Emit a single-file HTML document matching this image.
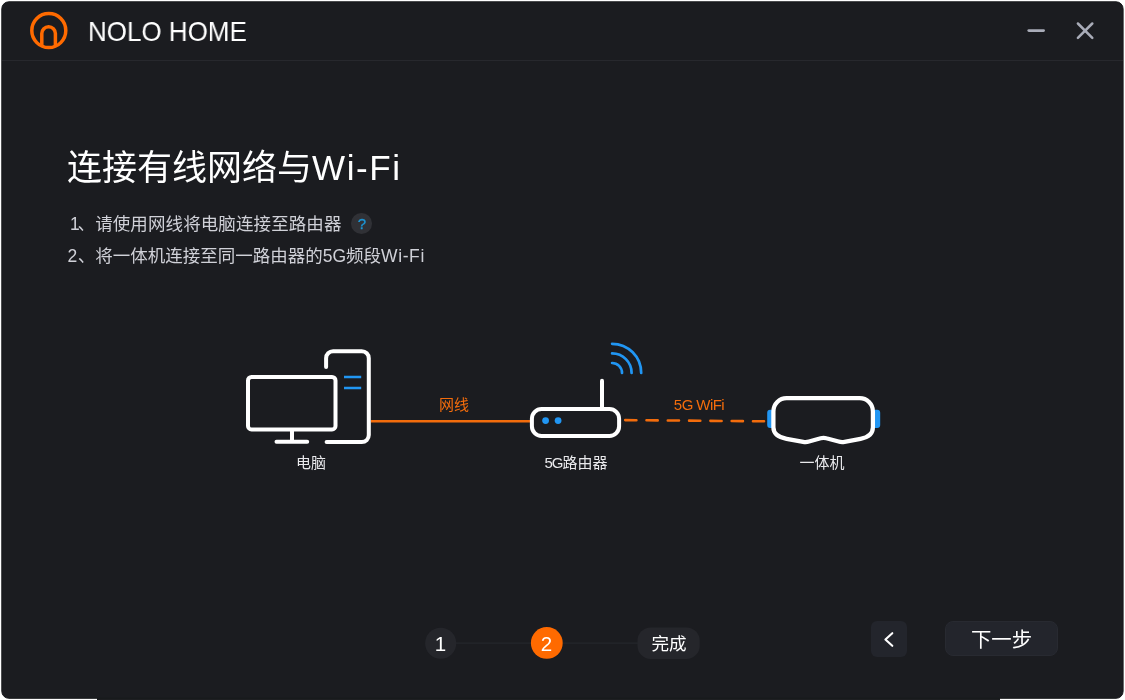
<!DOCTYPE html>
<html lang="zh-CN">
<head>
<meta charset="utf-8">
<title>NOLO HOME</title>
<style>
  html, body { margin: 0; padding: 0; }
  body {
    width: 1125px; height: 700px; overflow: hidden; position: relative;
    background: #ffffff;
    font-family: "Liberation Sans", "Noto Sans CJK SC", sans-serif;
    color: #ffffff;
  }
  .abs { position: absolute; }
  .t { will-change: transform; }
  .under { left: 97px; top: 690px; width: 903px; height: 10px; background: #1e1f22; }
  .win {
    left: 1.3px; top: 1.3px; width: 1122.3px; height: 697.2px; box-sizing: border-box;
    background: #1b1c20; border-radius: 7.5px; border: 1px solid #18191c;
  }
  .hline { left: 2px; top: 60px; width: 1121px; height: 1px; background: #27282d; }
  .brand { left: 88.2px; top: 15.9px; font-size: 27.5px; line-height: 32px; color: #fff; white-space: nowrap; transform: scaleX(0.945); transform-origin: 0 0; }
  .title { left: 67px; top: 143.7px; font-size: 35px; line-height: 48px; white-space: nowrap; color: #fff; font-weight: 400; }
  .title span { letter-spacing: 1.6px; }
  .li { left: 67px; font-size: 17.5px; line-height: 26px; white-space: nowrap; color: #d0d1d8; font-weight: 400; }
  .li1 { top: 210.9px; letter-spacing: 0.1px; }
  .li2 { top: 242.8px; }
  .help { left: 351px; top: 213px; width: 21px; height: 21px; border-radius: 50%; background: #303136; color: #1c96d6;
          font-size: 15px; line-height: 22px; padding-left: 0.4px; text-align: center; font-weight: 400; -webkit-text-stroke: 0.35px #1c96d6; }
  .lbl { font-size: 15px; line-height: 20px; white-space: nowrap; text-align: center; transform: translateX(-50%); font-weight: 400; }
  .lbl.o { color: #f36c0c; }
  .lbl.w { color: #e9e9ec; }
  .step { width: 31px; height: 31px; border-radius: 50%; top: 627.7px; text-align: center; font-size: 20.5px; line-height: 31px; color: #fff; }
  .s1 { left: 425.2px; }
  .s2 { left: 531.3px; }
  .s3 { left: 637.5px; top: 629.2px; width: 62.2px; height: 31px; text-align: center;
        font-size: 17.6px; line-height: 31px; font-weight: 400; }
  .back { left: 871px; top: 621px; width: 36px; height: 36px; border-radius: 6px; background: #23252c; }
  .next { left: 945px; top: 621px; width: 113px; height: 35px; border-radius: 8px; background: #23252c; box-sizing: border-box;
          border: 1px solid #282a31; text-align: center; font-size: 20.4px; line-height: 36px; font-weight: 400; }
</style>
</head>
<body>
<div class="abs under"></div>
<svg class="abs" style="left:0;top:0" width="1125" height="700" viewBox="0 0 1125 700"><rect x="1.8" y="1.8" width="1121.3" height="696.5" rx="7" fill="#1b1c20" stroke="#18191c" stroke-width="1"/></svg>
<div class="abs hline"></div>

<svg class="abs" style="left:0;top:0" width="1125" height="62" viewBox="0 0 1125 62" fill="none">
  <circle cx="48.8" cy="30.6" r="17" stroke="#ff6a00" stroke-width="3.5"/>
  <path d="M41.8 46 V33.5 a6.8 6.8 0 0 1 13.6 0 V46" stroke="#ff6a00" stroke-width="3.5"/>
  <path d="M1028.8 30.6 H1043.6" stroke="#a9acb8" stroke-width="2.8" stroke-linecap="round"/>
  <path d="M1077.9 23.5 L1092.3 37.9 M1092.3 23.5 L1077.9 37.9" stroke="#a9acb8" stroke-width="2.5" stroke-linecap="round"/>
</svg>
<div class="abs t brand">NOLO HOME</div>

<div class="abs t title">连接有线网络与<span>Wi-Fi</span></div>
<div class="abs t li li1"><span style="margin:0 -2.4px 0 3.1px">1</span>、请使用网线将电脑连接至路由器</div>
<div class="abs t help">?</div>
<div class="abs t li li2"><span style="margin:0 0.5px 0 0.5px">2</span>、将一体机连接至同一路由器的5G频段<span style="letter-spacing:0.6px">Wi-Fi</span></div>

<svg class="abs" style="left:0;top:330px" width="1125" height="130" viewBox="0 330 1125 130" fill="none">
  <!-- cable -->
  <path d="M371 421.2 H530" stroke="#f36c0c" stroke-width="2.6"/>
  <path d="M625.2 420.1 L764 421.3" stroke="#f36c0c" stroke-width="2.6" stroke-dasharray="11.2 10.1" stroke-linecap="round"/>
  <!-- monitor -->
  <rect x="248" y="376.9" width="87.5" height="52.5" rx="3.5" stroke="#fff" stroke-width="4"/>
  <path d="M292 430 V441.7 M276.5 441.7 H307.2" stroke="#fff" stroke-width="4" stroke-linecap="round"/>
  <!-- tower -->
  <path d="M326.1 366.9 V358.2 a7 7 0 0 1 7 -7 H361.8 a7 7 0 0 1 7 7 V435.1 a7 7 0 0 1 -7 7 H326.6" stroke="#fff" stroke-width="4" stroke-linecap="round"/>
  <path d="M344 377 H361.2 M344 388 H361.2" stroke="#2196f3" stroke-width="2.3"/>
  <!-- router -->
  <rect x="531.9" y="409.05" width="87.2" height="26.9" rx="9.7" stroke="#fff" stroke-width="4"/>
  <path d="M602 380.7 V407.5" stroke="#fff" stroke-width="4" stroke-linecap="round"/>
  <circle cx="545.6" cy="420.6" r="3.4" fill="#2196f3"/>
  <circle cx="558.1" cy="420.6" r="3.4" fill="#2196f3"/>
  <path d="M612.1 343.8 A29.1 29.1 0 0 1 641.2 372.9 M612.1 353.4 A19.5 19.5 0 0 1 631.6 372.9 M612.1 363 A9.9 9.9 0 0 1 622 372.9" stroke="#2196f3" stroke-width="2.7" stroke-linecap="round"/>
  <!-- headset -->
  <rect x="767.2" y="409.7" width="8" height="18.2" rx="3" fill="#2196f3"/>
  <rect x="872.2" y="409.7" width="8" height="18.2" rx="3" fill="#2196f3"/>
  <path d="M786.6 398.2 H859.7 A13.2 13.2 0 0 1 872.9 411.4 V427.3 C872.9 434 868 437.5 860.5 438.8 L844.5 441.8 Q841.5 442.4 838.6 441.5 L826.3 438.2 Q823.6 437.4 820.7 438.2 L809 441.5 Q806.2 442.4 803.2 441.8 L786.6 438.8 C779 437.5 773.4 434 773.4 427.3 V411.4 A13.2 13.2 0 0 1 786.6 398.2 Z" stroke="#fff" stroke-width="4.25" stroke-linejoin="round" fill="#1b1c20"/>
</svg>

<div class="abs t lbl o" style="left:453.7px;top:394.8px">网线</div>
<div class="abs t lbl o" style="left:699px;top:394.8px;letter-spacing:-0.55px">5G WiFi</div>
<div class="abs t lbl w" style="left:311.4px;top:453.4px">电脑</div>
<div class="abs t lbl w" style="left:576.2px;top:453.4px"><span style="letter-spacing:-1px">5G</span>路由器</div>
<div class="abs t lbl w" style="left:822px;top:453.4px">一体机</div>

<svg class="abs" style="left:400px;top:610px" width="320" height="70" viewBox="400 610 320 70">
  <path d="M456 643.2 H531 M562.5 643.2 H638" stroke="#25262b" stroke-width="1.2"/>
  <circle cx="440.7" cy="643.2" r="15.55" fill="#25262b"/>
  <circle cx="546.8" cy="642.95" r="15.9" fill="#ff6a00"/>
  <rect x="637.5" y="627.4" width="62.2" height="31.6" rx="13.3" fill="#25262b"/>
</svg>
<div class="abs t step s1">1</div>
<div class="abs t step s2">2</div>
<div class="abs t s3">完成</div>

<div class="abs back"></div>
<svg class="abs" style="left:871px;top:621px" width="36" height="36" viewBox="871 621 36 36" fill="none">
  <path d="M892.3 633.2 L885.4 639.5 L892.3 645.8" stroke="#fff" stroke-width="2.1" stroke-linecap="round" stroke-linejoin="round"/>
</svg>
<div class="abs t next">下一步</div>
</body>
</html>
